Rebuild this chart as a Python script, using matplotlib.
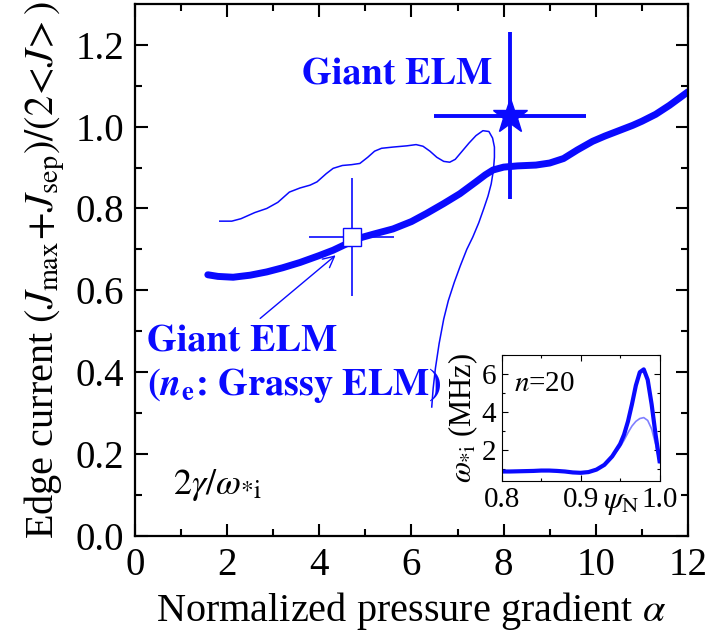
import matplotlib
matplotlib.use("Agg")
import matplotlib.pyplot as plt
import numpy as np

plt.rcParams['font.family'] = ['Liberation Serif', 'DejaVu Serif']
plt.rcParams['mathtext.fontset'] = 'stix'

BLUE = '#0a0aff'
BOLD_FONT = ['STIXGeneral', 'Liberation Serif']

# edge current vs alpha, thick curve
alpha_main = [1.58, 1.8, 2.13, 2.5, 2.86, 3.2, 3.58, 4.0, 4.3, 4.6, 4.88, 5.2,
              5.6, 6.0, 6.33, 6.7, 7.05, 7.4, 7.6, 7.77, 8.0, 8.3, 8.7, 9.0,
              9.3, 9.6, 9.93, 10.2, 10.5, 10.8, 11.0, 11.3, 11.6, 12.0]
jedge_main = [0.638, 0.634, 0.632, 0.637, 0.645, 0.655, 0.668, 0.685, 0.698,
              0.714, 0.728, 0.738, 0.750, 0.768, 0.788, 0.812, 0.836, 0.865,
              0.882, 0.894, 0.901, 0.904, 0.906, 0.911, 0.922, 0.943, 0.964,
              0.977, 0.990, 1.003, 1.013, 1.030, 1.052, 1.085]

# thin trajectory (loops back down to the grassy ELM label)
alpha_thin = [1.84, 2.1, 2.3, 2.6, 2.86, 3.1, 3.35, 3.58, 3.8, 3.95, 4.15, 4.3,
              4.5, 4.7, 4.88, 5.05, 5.2, 5.35, 5.6, 5.9, 6.1, 6.25, 6.4, 6.55,
              6.7, 6.83, 6.95, 7.1, 7.25, 7.4, 7.55, 7.68, 7.76, 7.8, 7.8,
              7.78, 7.73, 7.66, 7.57, 7.46, 7.33, 7.2, 7.06, 6.93, 6.8, 6.7,
              6.6, 6.52, 6.47, 6.44]
jedge_thin = [0.769, 0.769, 0.775, 0.79, 0.80, 0.815, 0.84, 0.85, 0.857, 0.865,
              0.885, 0.898, 0.905, 0.907, 0.91, 0.925, 0.94, 0.947, 0.95, 0.953,
              0.956, 0.952, 0.94, 0.925, 0.915, 0.913, 0.92, 0.94, 0.96, 0.978,
              0.99, 0.988, 0.972, 0.95, 0.925, 0.895, 0.86, 0.83, 0.80, 0.765,
              0.73, 0.70, 0.66, 0.62, 0.575, 0.53, 0.47, 0.41, 0.36, 0.315]

# experimental points with error bars
sq_x, sq_y, sq_xerr, sq_yerr = 4.7, 0.73, 0.92, 0.145
star_x, star_y, star_xerr, star_yerr = 8.13, 1.027, 1.65, 0.205

# inset: omega_*i profile
psi = [0.80, 0.81, 0.82, 0.83, 0.84, 0.85, 0.86, 0.87, 0.88, 0.89, 0.90, 0.91,
       0.92, 0.93, 0.94, 0.95, 0.955, 0.96, 0.965, 0.97, 0.975, 0.98, 0.985,
       0.99, 0.995, 1.0]
omega_thick = [0.85, 0.85, 0.86, 0.87, 0.88, 0.9, 0.9, 0.88, 0.85, 0.8, 0.78,
               0.82, 0.95, 1.2, 1.65, 2.3, 2.8, 3.5, 4.4, 5.4, 6.1, 6.25, 5.7,
               4.4, 2.8, 1.4]
omega_thin = [0.85, 0.85, 0.86, 0.87, 0.88, 0.9, 0.9, 0.88, 0.85, 0.8, 0.78,
              0.82, 0.95, 1.2, 1.6, 2.15, 2.5, 2.9, 3.25, 3.5, 3.65, 3.7, 3.55,
              3.1, 2.3, 1.3]

fig = plt.figure(figsize=(7.2, 6.32), dpi=100)
ax = fig.add_axes([0.1875, 0.152, 0.768, 0.842])

ax.plot(alpha_main, jedge_main, color=BLUE, lw=5, solid_capstyle='round',
        solid_joinstyle='round')
ax.plot(alpha_thin, jedge_thin, color=BLUE, lw=1.1, solid_joinstyle='round')

ax.errorbar(sq_x, sq_y, xerr=sq_xerr, yerr=sq_yerr, fmt='s', ms=13,
            mfc='white', mec=BLUE, mew=1.0, ecolor=BLUE, elinewidth=1.2,
            capsize=0, zorder=5)
ax.errorbar(star_x, star_y, xerr=star_xerr, yerr=star_yerr, fmt='*', ms=26,
            color=BLUE, elinewidth=2.8, capsize=0, zorder=5)

ax.text(5.68, 1.125, 'Giant ELM', color=BLUE, fontsize=27.5, family=BOLD_FONT,
        fontweight='bold', ha='center', va='center')
ax.text(0.26, 0.473, 'Giant ELM', color=BLUE, fontsize=27.5, family=BOLD_FONT,
        fontweight='bold', ha='left', va='center')
ax.text(0.26, 0.368, r'($\boldsymbol{n}_{\mathbf{e}}$: Grassy ELM)', color=BLUE,
        fontsize=27.5, family=BOLD_FONT, fontweight='bold', ha='left', va='center')
ax.annotate('', xy=(4.4, 0.69), xytext=(2.67, 0.527),
            arrowprops=dict(arrowstyle='->', color=BLUE, lw=1.0,
                            mutation_scale=20))
ax.text(0.82, 0.124, r'$2\gamma/\omega_{*\mathrm{i}}$', fontsize=26,
        ha='left', va='center')

ax.set_xlim(0, 12)
ax.set_ylim(0, 1.3)
ax.set_xticks(np.arange(0, 13, 2))
ax.set_xticks(np.arange(1, 12, 2), minor=True)
ax.set_yticks(np.arange(0, 1.3, 0.2))
ax.set_yticks(np.arange(0.1, 1.3, 0.2), minor=True)
ax.set_yticklabels(['%.1f' % v for v in np.arange(0, 1.3, 0.2)])
ax.tick_params(which='both', direction='in', top=True, right=True,
               labelsize=28, width=1.5, pad=8)
ax.tick_params(which='major', length=9)
ax.tick_params(which='minor', length=5)
for s in ax.spines.values():
    s.set_linewidth(1.6)
ax.set_xlabel(r'Normalized pressure gradient $\alpha$', fontsize=29, labelpad=4)
ax.set_ylabel(r'Edge current $(J_{\mathrm{max}}\!+\!J_{\mathrm{sep}})/(2\!<\!J\!>)$',
              fontsize=29, labelpad=6)

# inset
ins = fig.add_axes([0.697, 0.239, 0.219, 0.199])
ins.plot(psi, omega_thin, color='#8080ff', lw=1.2)
ins.plot(psi, omega_thick, color=BLUE, lw=3)
ins.set_xlim(0.8, 1.0)
ins.set_ylim(0.35, 7.0)
ins.set_xticks([0.8, 0.9, 1.0])
ins.set_xticklabels(['0.8', '0.9', '1.0'])
ins.set_xticks([0.85, 0.95], minor=True)
ins.set_yticks([2, 4, 6])
ins.set_yticks([1, 3, 5, 7], minor=True)
ins.tick_params(which='both', direction='in', top=True, right=True,
                labelsize=21, width=0.8, pad=4)
ins.tick_params(which='major', length=4)
ins.tick_params(which='minor', length=2.5)
for s in ins.spines.values():
    s.set_linewidth(0.8)
ins.set_ylabel(r'$\omega_{*\mathrm{i}}$ (MHz)', fontsize=22, labelpad=1)
ins.text(0.755, -0.17, r'$\psi_{\mathrm{N}}$', fontsize=23, transform=ins.transAxes,
         ha='center', va='center')
ins.text(0.816, 5.5, r'$n$=20', fontsize=21, ha='left', va='center')

fig.savefig('out.png', dpi=100)
